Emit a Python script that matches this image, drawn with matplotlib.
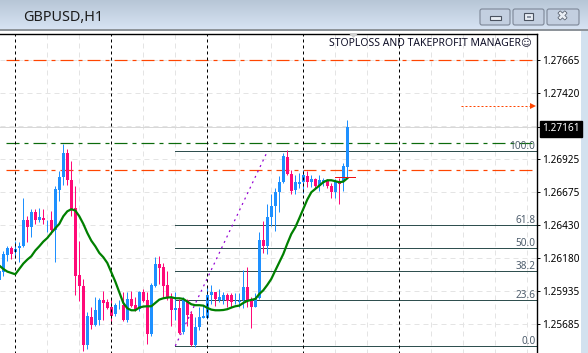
import numpy as np
import matplotlib
matplotlib.use("Agg")
import matplotlib.pyplot as plt
import matplotlib.patheffects as pe
from matplotlib.patches import Rectangle, FancyBboxPatch, Polygon

plt.rcParams['font.family'] = ['Noto Sans', 'DejaVu Sans']
plt.rcParams['lines.scale_dashes'] = False

title = "GBPUSD,H1"
manager_text = "STOPLOSS AND TAKEPROFIT MANAGER\u263A"

# Candles: bar numbers run from -1
open_ = [1.26019,1.26079,1.26204,1.26259,1.26229,1.26254,1.26269,1.26469,1.26411,1.26529,1.26464,1.26484,1.26464,1.26469,1.26394,1.26694,1.26787,1.26969,1.26769,1.26559,1.26057,1.25974,1.25531,1.25741,1.25681,1.25719,1.25869,1.25854,1.25817,1.25762,1.25826,1.25831,1.25719,1.25874,1.25829,1.25799,1.25929,1.25869,1.25609,1.25974,1.26139,1.26114,1.25981,1.25887,1.25794,1.25809,1.25624,1.25869,1.25764,1.25531,1.25661,1.25734,1.25729,1.25907,1.25929,1.25869,1.25869,1.25907,1.25907,1.25849,1.25849,1.25864,1.25964,1.25874,1.25811,1.25879,1.26319,1.26274,1.26491,1.26569,1.26674,1.26749,1.26939,1.26811,1.26694,1.26739,1.26754,1.26799,1.26749,1.26774,1.26719,1.26754,1.26764,1.26724,1.26674,1.26757,1.26757,1.26864]
close = [1.26081,1.26214,1.26259,1.26209,1.26249,1.26274,1.26469,1.26411,1.26529,1.26464,1.26489,1.26464,1.26469,1.26394,1.26699,1.26789,1.26969,1.26764,1.26544,1.26049,1.25969,1.25531,1.25744,1.25681,1.25794,1.25869,1.25847,1.25809,1.25749,1.25831,1.25831,1.25719,1.25874,1.25824,1.25794,1.25929,1.25861,1.25609,1.25981,1.26139,1.26109,1.25974,1.25881,1.25794,1.25809,1.25617,1.25869,1.25757,1.25531,1.25667,1.25741,1.25749,1.25907,1.25929,1.25874,1.25887,1.25907,1.25861,1.25854,1.25854,1.25861,1.25964,1.25867,1.25811,1.25879,1.26319,1.26274,1.26491,1.26574,1.26679,1.26754,1.26944,1.26811,1.26687,1.26749,1.26754,1.26807,1.26749,1.26774,1.26719,1.26764,1.26764,1.26719,1.26674,1.26759,1.26739,1.26869,1.27161]
high = [1.26109,1.26231,1.26274,1.26274,1.26311,1.26304,1.26634,1.26499,1.26551,1.26551,1.26559,1.26551,1.26469,1.26537,1.26724,1.26837,1.27039,1.27001,1.26911,1.26724,1.26307,1.26024,1.25774,1.25811,1.25887,1.25879,1.25937,1.25874,1.25877,1.25841,1.25869,1.25929,1.25929,1.25931,1.25887,1.25931,1.25949,1.25929,1.25991,1.26191,1.26199,1.26144,1.26087,1.25919,1.25924,1.25877,1.25887,1.25874,1.25787,1.25737,1.25811,1.25831,1.25974,1.25979,1.25929,1.25949,1.25929,1.25919,1.25921,1.25921,1.25921,1.26091,1.26117,1.25887,1.25919,1.26374,1.26461,1.26587,1.26664,1.26704,1.26799,1.26969,1.26994,1.26844,1.26807,1.26819,1.26844,1.26837,1.26807,1.26781,1.26807,1.26781,1.26774,1.26744,1.26774,1.26784,1.26897,1.27219]
low = [1.25944,1.26044,1.26161,1.26177,1.26184,1.26149,1.26261,1.26299,1.26341,1.26437,1.26449,1.26439,1.26379,1.26362,1.26149,1.26611,1.26731,1.26731,1.26499,1.25901,1.25861,1.25481,1.25501,1.25651,1.25674,1.25681,1.25719,1.25799,1.25689,1.25749,1.25801,1.25711,1.25699,1.25817,1.25787,1.25787,1.25854,1.25537,1.25599,1.25967,1.25987,1.25887,1.25869,1.25669,1.25719,1.25614,1.25609,1.25674,1.25524,1.25517,1.25644,1.25729,1.25727,1.25837,1.25819,1.25849,1.25839,1.25811,1.25817,1.25839,1.25817,1.25804,1.25811,1.25654,1.25811,1.25874,1.26219,1.26211,1.26424,1.26387,1.26524,1.26747,1.26807,1.26664,1.26664,1.26707,1.26671,1.26714,1.26714,1.26707,1.26681,1.26719,1.26704,1.26634,1.26629,1.26589,1.26681,1.26784]
ma = [1.26124,1.26099,1.26079,1.26069,1.26059,1.26099,1.26139,1.26169,1.26194,1.26237,1.26269,1.26304,1.26331,1.26369,1.26404,1.26437,1.26494,1.26531,1.26547,1.26537,1.26494,1.26437,1.26369,1.26311,1.26269,1.26219,1.26187,1.26144,1.26074,1.26004,1.25924,1.25844,1.25804,1.25789,1.25789,1.25809,1.25817,1.25819,1.25819,1.25844,1.25869,1.25879,1.25884,1.25887,1.25879,1.25879,1.25874,1.25854,1.25834,1.25827,1.25827,1.25824,1.25807,1.25794,1.25789,1.25789,1.25791,1.25797,1.25809,1.25819,1.25824,1.25844,1.25859,1.25867,1.25874,1.25911,1.25939,1.25979,1.26024,1.26087,1.26149,1.26211,1.26289,1.26361,1.26411,1.26479,1.26549,1.26619,1.26674,1.26699,1.26724,1.26749,1.26764,1.26764,1.26757,1.26749,1.26754,1.26779]

# Price axis
tick_prices = [1.27665, 1.27420, 1.26925, 1.26675, 1.26430, 1.26180, 1.25935, 1.25685]
tick_labels = ["1.27665", "1.27420", "1.26925", "1.26675", "1.26430", "1.26180", "1.25935", "1.25685"]
grid_prices = [1.27665, 1.27420, 1.27170, 1.26925, 1.26675, 1.26430, 1.26180, 1.25935, 1.25685]
last_price = 1.27161
last_label = "1.27161"

# Objects drawn on the chart
grid_bars = [11, 19, 35, 43, 59, 67, 83, 91, 107, 115, 123, 131]
period_bars = [3, 27, 51, 75, 99]
orange_levels = [1.27665, 1.26840]
green_level = 1.27043
fib_values = [1.26983, 1.26429, 1.26257, 1.26084, 1.25867, 1.25522]
fib_names = ["100.0", "61.8", "50.0", "38.2", "23.6", "0.0"]
fib_start_bar = 43
fib_trend_bars = [43, 66]
fib_trend_prices = [1.25522, 1.26979]
order_price = 1.27319
order_bars = [114.4, 132.3]
red_price = 1.26786
red_bars = [83, 88]

W, H = 588, 353
fig = plt.figure(figsize=(W / 100, H / 100), dpi=100, facecolor='white')

# window chrome in pixel coordinates
bg = fig.add_axes([0, 0, 1, 1], zorder=0)
grad = np.linspace(0, 1, 29)[:, None, None] * (np.array([0.84, 0.89, 0.95]) - np.array([0.72, 0.78, 0.84])) + np.array([0.72, 0.78, 0.84])
bg.imshow(grad, extent=(0, W, 29, 0), aspect='auto', interpolation='bilinear')
bg.set_xlim(0, W); bg.set_ylim(H, 0); bg.axis('off')
bg.add_patch(Rectangle((0, 29), W, 2, fc='#8e949a', ec='none'))
bg.add_patch(Rectangle((581, 31), 7, H, fc='#d3e1ef', ec='none'))
bg.text(23, 17.5, title, fontsize=10.4, color='#1c1c1c', va='center', ha='left')
for x0, x1 in [(480, 510), (513, 544), (547, 579)]:
    bg.add_patch(FancyBboxPatch((x0, 9), x1 - x0, 16, boxstyle='round,pad=0,rounding_size=2',
                                fc='#c3cfe0', ec='#7d8797', lw=0.8))
bg.add_patch(Rectangle((490, 16), 11, 4, fc='#e8edf4', ec='#4a5260', lw=0.8))
bg.add_patch(Rectangle((524, 13), 9, 7, fc='#e8edf4', ec='#4a5260', lw=0.8))
bg.add_patch(Rectangle((526.5, 15.5), 4, 2, fc='#8d96a5', ec='none'))
bg.text(562.5, 16.5, "\u2716", fontsize=9, color='#e8edf4', ha='center', va='center',
        family=['DejaVu Sans'], path_effects=[pe.withStroke(linewidth=1, foreground='#4a5260')])

# main chart
ax = fig.add_axes([0, 0, 536.5 / W, (H - 33.5) / H], zorder=1, facecolor='white')
px_p = 0.000075
shift = 0.4 * px_p
ax.set_ylim(1.28119 - H * px_p - shift, 1.28119 - 33.5 * px_p - shift)
XL, XR = -3.3 / 4, 533.2 / 4
ax.set_xlim(XL, XR)
for s in ['left', 'bottom']:
    ax.spines[s].set_visible(False)
for s in ['top', 'right']:
    ax.spines[s].set_linewidth(1.0)
ax.set_xticks([])
ax.yaxis.tick_right()
ticks = tick_prices + [last_price]
ax.set_yticks(ticks)
ax.set_yticklabels(tick_labels + [last_label], fontsize=7.2, color='black')
ax.tick_params(axis='y', length=2, width=0.7, pad=2)
last_tl = ax.get_yticklabels()[-1]
last_tl.set_color('white')
last_tl.set_bbox(dict(fc='black', ec='black', pad=1.6))

PX = 0.72
gridkw = dict(color='#e4e4e4', lw=PX, ls=(0, (5 * PX, 4 * PX)), zorder=1, snap=True)
for p in grid_prices:
    ax.plot([XL, XR], [p, p], **gridkw)
for b in grid_bars:
    ax.plot([b, b], [1.25, 1.29], **gridkw)
ax.plot([XL, XR], [last_price, last_price], color='#d8d8d8', lw=PX, zorder=1, snap=True)
for b in period_bars:
    ax.plot([b, b], [1.25, 1.29], color='black', lw=PX, ls=(0, (3 * PX, 3 * PX)), zorder=5, snap=True)

dashdot = (0, (13 * PX, 5 * PX, 4 * PX, 5 * PX))
for p in orange_levels:
    ax.plot([0.6, XR], [p, p], color='#ff4500', lw=PX * 1.2, ls=dashdot, zorder=2, snap=True)
ax.plot([0.6, XR], [green_level, green_level], color='#0b6b0b', lw=PX * 1.2, ls=dashdot, zorder=2, snap=True)

for p, name in zip(fib_values, fib_names):
    ax.plot([fib_start_bar, XR], [p, p], color='#2f4f4f', lw=PX, zorder=2, snap=True)
    ax.annotate(name, (XR - 0.3, p), xytext=(0, -1.0), textcoords='offset points', ha='right', va='bottom',
                fontsize=7.2, color='#4e5d6c', zorder=6)
ax.plot(fib_trend_bars, fib_trend_prices, color='#9400d3', lw=PX * 1.2, ls=(0, (2 * PX, 4 * PX)), zorder=3)

bars = np.arange(len(open_)) - 1
o, c, h, l = map(np.array, (open_, close, high, low))
colors = np.where(c >= o, '#1e90ff', '#ff0a78')
ax.vlines(bars, l, h, colors=colors, linewidth=PX, zorder=4)
ax.bar(bars, np.maximum(np.abs(c - o), 0.00005), bottom=np.minimum(o, c), width=0.75, color=colors,
       linewidth=0, zorder=4)

ax.plot(bars, ma, color='#008000', lw=1.6, zorder=6)
ax.plot(red_bars, [red_price, red_price], color='#ee1111', lw=PX, zorder=6, snap=True)

ax.plot(order_bars, [order_price, order_price], color='#ff4500', lw=PX, ls=(0, (2 * PX, 2 * PX)), zorder=3, snap=True)
ax.plot([order_bars[1]], [order_price], marker='>', color='#ff4500', ms=4.5, mew=0, zorder=3, clip_on=False)

ax.text(531.5, 42.5, manager_text, fontsize=7.5, color='#101028', ha='right', va='center', zorder=7,
        transform=bg.transData)
tri = Polygon([(349, 33.5), (358, 33.5), (353.5, 38)], closed=True, fc='#d0d0d0', ec='none', transform=bg.transData, zorder=7)
ax.add_patch(tri)

fig.savefig("out.png", dpi=100)
